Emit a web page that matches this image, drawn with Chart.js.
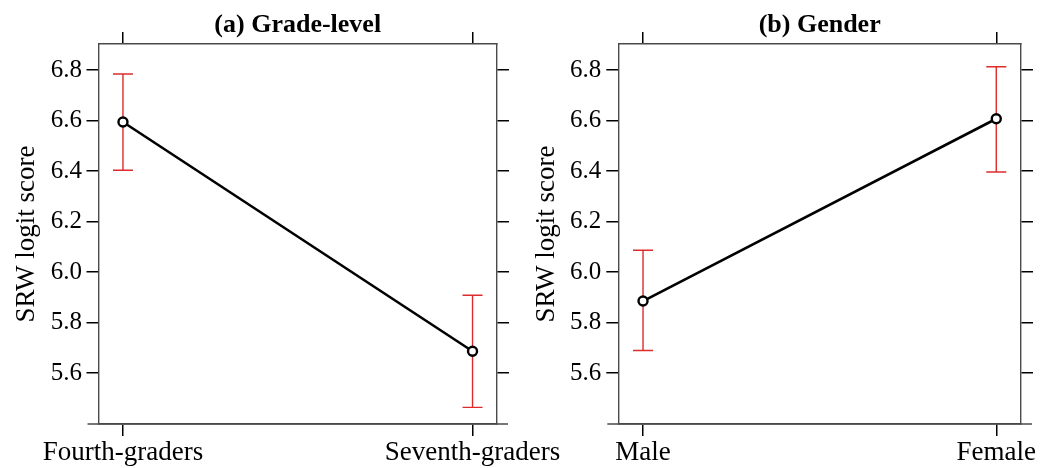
<!DOCTYPE html>
<html>
<head>
<meta charset="utf-8">
<script src="https://cdn.jsdelivr.net/npm/chart.js@4/dist/chart.umd.min.js"></script>
<style>
  html, body { margin: 0; padding: 0; background: #fff; }
  #wrap { position: relative; width: 1056px; height: 468px; overflow: hidden; }
  canvas { position: absolute; top: 0; }
</style>
</head>
<body>
<div id="wrap">
  <canvas id="ca" width="600" height="468" style="left:0"></canvas>
  <canvas id="cb" width="528" height="468" style="left:528px"></canvas>
</div>
<script>
// ---- data ----
const yTicks = [5.6, 5.8, 6.0, 6.2, 6.4, 6.6, 6.8];
const gradeCats = ['Fourth-graders', 'Seventh-graders'];
const gradeMean = [6.594, 5.686];
const gradeLow  = [6.403, 5.464];
const gradeHigh = [6.784, 5.908];
const genderCats = ['Male', 'Female'];
const genderMean = [5.885, 6.607];
const genderLow  = [5.689, 6.396];
const genderHigh = [6.086, 6.813];

const Y_MIN = 5.398, Y_MAX = 6.903;
const X_MIN = -0.07, X_MAX = 1.07;
const SERIF = "'Liberation Serif', 'Times New Roman', serif";
const BOX = '#4a4a4a';
const RED = '#dd2b2b';
const TICK = 12;

const extendBottom = {
  id: 'extendBottom',
  afterDraw(chart) {
    const {ctx, chartArea} = chart;
    ctx.save();
    ctx.strokeStyle = BOX;
    ctx.lineWidth = 1.4;
    ctx.beginPath();
    ctx.moveTo(chartArea.left - 11, chartArea.bottom);
    ctx.lineTo(chartArea.right + 11, chartArea.bottom);
    ctx.stroke();
    ctx.restore();
  }
};

function makeChart(id, title, cats, mean, low, high, opt) {
  const datasets = [{
    data: mean.map((v, i) => ({x: i, y: v})),
    showLine: true,
    borderColor: '#000',
    borderWidth: 2.6,
    pointRadius: 4.5,
    pointBorderWidth: 2.4,
    pointBorderColor: '#000',
    pointBackgroundColor: '#fff',
  }];
  cats.forEach((c, i) => {
    datasets.push({
      data: [{x: i, y: low[i]}, {x: i, y: high[i]}],
      showLine: true,
      borderColor: RED,
      borderWidth: 1.4,
      pointStyle: 'line',
      pointRadius: 10,
      pointBorderColor: RED,
      pointBorderWidth: 1.4,
    });
  });
  const gridCommon = {
    drawOnChartArea: false,
    drawTicks: true,
    tickLength: TICK,
    color: '#000',
    tickColor: '#000',
    tickWidth: 1.5,
    lineWidth: 1.5,
  };
  const border = {display: true, color: BOX, width: 1.4};
  const setY = s => { s.ticks = yTicks.map(v => ({value: v})); };
  const setX = s => { s.ticks = cats.map((c, i) => ({value: i})); };
  return new Chart(document.getElementById(id), {
    type: 'scatter',
    data: {datasets},
    plugins: [extendBottom],
    options: {
      responsive: false,
      animation: false,
      devicePixelRatio: 1,
      layout: {padding: {left: 0, right: opt.padRight, top: 0, bottom: 0}},
      plugins: {
        legend: {display: false},
        tooltip: {enabled: false},
        title: {
          display: true,
          text: title,
          fullSize: false,
          color: '#000',
          font: {family: SERIF, size: 26, weight: 'bold', lineHeight: 1},
          padding: {top: 12.5, bottom: 0},
        },
      },
      scales: {
        x: {
          type: 'linear', position: 'bottom', min: X_MIN, max: X_MAX,
          afterBuildTicks: setX,
          afterFit: s => { s.height = 44; },
          grid: gridCommon, border,
          ticks: {
            color: '#000', font: {family: SERIF, size: 27, lineHeight: 1}, padding: 3.5,
            maxRotation: 0, autoSkip: false,
            callback: v => cats[Math.round(v)],
          },
        },
        x2: {
          type: 'linear', position: 'top', min: X_MIN, max: X_MAX,
          afterBuildTicks: setX,
          afterFit: s => { s.height = 5.5; },
          grid: gridCommon, border,
          ticks: {display: false},
        },
        y: {
          type: 'linear', position: 'left', min: Y_MIN, max: Y_MAX,
          afterBuildTicks: setY,
          afterFit: s => { s.width = opt.yWidth; },
          grid: gridCommon, border,
          ticks: {
            color: '#000', font: {family: SERIF, size: 25}, padding: opt.tickPad,
            callback: v => v.toFixed(1),
          },
          title: {
            display: true, text: 'SRW logit score', color: '#000',
            font: {family: SERIF, size: 27, lineHeight: 1.2},
            padding: {top: opt.titlePad, bottom: 0},
          },
        },
        y2: {
          type: 'linear', position: 'right', min: Y_MIN, max: Y_MAX,
          afterBuildTicks: setY,
          afterFit: s => { s.width = 11; },
          grid: gridCommon, border,
          ticks: {display: false},
        },
      },
    },
  });
}

makeChart('ca', '(a) Grade-level', gradeCats, gradeMean, gradeLow, gradeHigh,
  {yWidth: 98.5, padRight: 92, titlePad: 10.8, tickPad: 4.5});
makeChart('cb', '(b) Gender', genderCats, genderMean, genderLow, genderHigh,
  {yWidth: 90.3, padRight: 24, titlePad: 2.8, tickPad: 5});
</script>
</body>
</html>
